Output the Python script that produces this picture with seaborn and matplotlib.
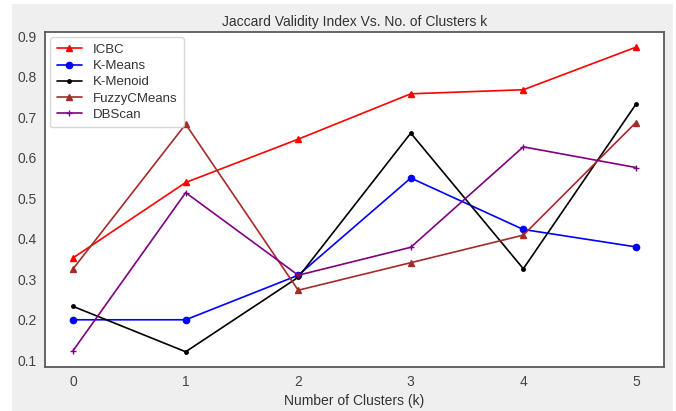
import matplotlib
matplotlib.use("Agg")
import matplotlib.pyplot as plt
import seaborn as sns
import pandas as pd
from matplotlib.patches import Rectangle

# Number of clusters on the x axis
clusters = [0, 1, 2, 3, 4, 5]

# Jaccard validity index per algorithm
icbc = [0.353, 0.539, 0.646, 0.758, 0.768, 0.873]
kmeans = [0.200, 0.200, 0.310, 0.550, 0.423, 0.380]
kmenoid = [0.233, 0.121, 0.305, 0.661, 0.326, 0.732]
fuzzy = [0.326, 0.683, 0.273, 0.341, 0.409, 0.687]
dbscan = [0.124, 0.514, 0.310, 0.379, 0.627, 0.576]

series = [
    ("ICBC", icbc, "red", "^", 5),
    ("K-Means", kmeans, "blue", "o", 4.5),
    ("K-Menoid", kmenoid, "black", ".", 5),
    ("FuzzyCMeans", fuzzy, "brown", "^", 5),
    ("DBScan", dbscan, "purple", "+", 5),
]

sns.set_style("white")
plt.rcParams["font.family"] = ["Liberation Sans", "DejaVu Sans"]

fig = plt.figure(figsize=(6.76, 4.11), dpi=100, facecolor="white")
# grey canvas behind the axes
fig.patches.append(Rectangle((12 / 676, 0), (673 - 12) / 676, 1 - 4 / 411,
                             transform=fig.transFigure, facecolor="#efefef",
                             edgecolor="none", zorder=-10))
ax = fig.add_axes([45 / 676, 1 - 367 / 411, (664 - 45) / 676, (367 - 32) / 411])
ax.set_facecolor("white")

for name, vals, color, marker, ms in series:
    df = pd.DataFrame({"k": clusters, "v": vals})
    sns.lineplot(data=df, x="k", y="v", ax=ax, color=color, marker=marker,
                 markersize=ms, linewidth=1.2, markeredgecolor=color,
                 markeredgewidth=1, label=name)

ax.set_title("Jaccard Validity Index Vs. No. of Clusters k", fontsize=10,
             color="#333333", pad=4)
ax.set_xlabel("Number of Clusters (k)", fontsize=10, color="#333333", labelpad=3)
ax.set_ylabel("")
ax.set_yticks([0.1, 0.2, 0.3, 0.4, 0.5, 0.6, 0.7, 0.8, 0.9])
ax.set_xticks(clusters)
ax.tick_params(axis="both", labelsize=10, colors="#444444", length=0, pad=6)
for s in ax.spines.values():
    s.set_color("#5a5a5a")
    s.set_linewidth(1.3)

leg = ax.legend(loc="upper left", fontsize=9.5, frameon=True, handlelength=1.9,
                borderpad=0.5, labelspacing=0.3, borderaxespad=0.4)
leg.get_frame().set_edgecolor("#cccccc")
for t in leg.get_texts():
    t.set_color("#333333")

fig.savefig("out.png", dpi=100, facecolor=fig.get_facecolor())
